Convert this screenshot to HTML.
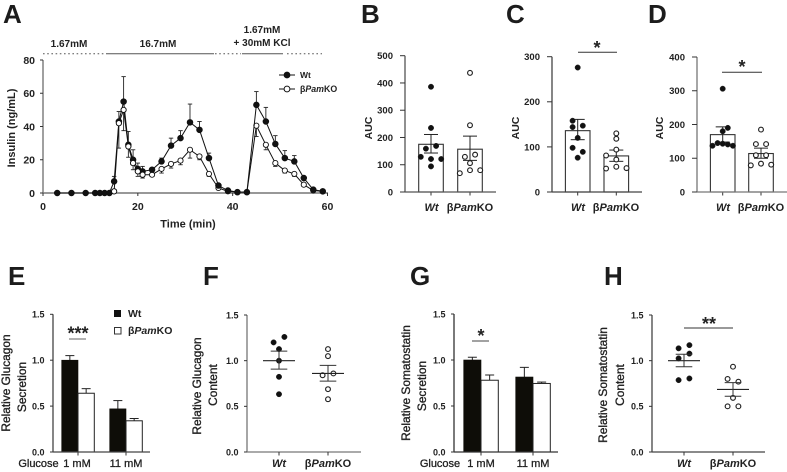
<!DOCTYPE html>
<html lang="en">
<head>
<meta charset="utf-8">
<title>Insulin, glucagon and somatostatin secretion</title>
<style>
html,body{margin:0;padding:0;background:#fff;}
svg{display:block;font-family:"Liberation Sans",sans-serif;}
.letter{font-size:26px;font-weight:bold;fill:#1c1c1c;}
.cond{font-size:10px;font-weight:bold;fill:#222;text-anchor:middle;}
.b11{font-size:11px;font-weight:bold;fill:#222;text-anchor:middle;}
.auc{font-size:10.5px;font-weight:bold;fill:#222;text-anchor:middle;}
.rel{font-size:11.9px;fill:#222;stroke:#222;stroke-width:.35px;text-anchor:middle;}
.xreg{font-size:11px;fill:#222;stroke:#222;stroke-width:.3px;text-anchor:middle;}
.star{font-size:18px;font-weight:bold;fill:#222;text-anchor:middle;}
.leg{font-weight:bold;fill:#222;}
</style>
</head>
<body>
<svg id="fig" width="787" height="472" viewBox="0 0 787 472" xmlns="http://www.w3.org/2000/svg">
  <rect x="0" y="0" width="787" height="472" fill="#fff"/>

  <text class="letter" x="3" y="23">A</text>
  <text class="letter" x="361" y="23">B</text>
  <text class="letter" x="506" y="23">C</text>
  <text class="letter" x="648" y="23">D</text>
  <text class="letter" x="8" y="285">E</text>
  <text class="letter" x="203" y="285">F</text>
  <text class="letter" x="410" y="285">G</text>
  <text class="letter" x="604" y="285">H</text>

  <text class="cond" x="69" y="47">1.67mM</text>
  <text class="cond" x="158" y="47">16.7mM</text>
  <text class="cond" x="262" y="33">1.67mM</text>
  <text class="cond" x="262" y="46">+ 30mM KCl</text>
  <g stroke="#555" stroke-width="1">
    <line x1="43" x2="107" y1="53.7" y2="53.7" stroke-dasharray="1.6 2.6"/>
    <line x1="107" x2="214" y1="53.7" y2="53.7"/>
    <line x1="215" x2="241" y1="53.7" y2="53.7" stroke-dasharray="1.6 2.6"/>
    <line x1="242" x2="283" y1="53.7" y2="53.7"/>
    <line x1="287" x2="322" y1="53.7" y2="53.7" stroke-dasharray="1.6 2.6"/>
  </g>
  <text class="b11" transform="translate(15,128) rotate(-90)">Insulin (ng/mL)</text>
  <text class="b11" x="188" y="227.7">Time (min)</text>

  <g>
    <line x1="279" x2="295" y1="75" y2="75" stroke="#111" stroke-width="1"/>
    <circle cx="287" cy="75" r="2.9" fill="#111" stroke="#111"/>
    <text class="leg" x="300" y="78" font-size="8.5">Wt</text>
    <line x1="279" x2="295" y1="89" y2="89" stroke="#111" stroke-width="1"/>
    <circle cx="287" cy="89" r="2.9" fill="#fff" stroke="#111"/>
    <text class="leg" x="300" y="92" font-size="8.8">β<tspan font-style="italic">Pam</tspan>KO</text>
  </g>

  <text class="auc" transform="translate(372,128) rotate(-90)">AUC</text>
  <text class="b11" x="431.5" y="211" font-style="italic">Wt</text>
  <text class="b11" x="470" y="211">β<tspan font-style="italic">Pam</tspan>KO</text>

  <text class="auc" transform="translate(519,128) rotate(-90)">AUC</text>
  <text class="b11" x="578" y="211" font-style="italic">Wt</text>
  <text class="b11" x="616" y="211">β<tspan font-style="italic">Pam</tspan>KO</text>
  <line x1="578" x2="617" y1="52.3" y2="52.3" stroke="#333" stroke-width="1"/>
  <text class="star" x="597" y="54">*</text>

  <text class="auc" transform="translate(663,128) rotate(-90)">AUC</text>
  <text class="b11" x="723" y="211" font-style="italic">Wt</text>
  <text class="b11" x="761" y="211">β<tspan font-style="italic">Pam</tspan>KO</text>
  <line x1="722" x2="762" y1="72.3" y2="72.3" stroke="#333" stroke-width="1"/>
  <text class="star" x="742" y="73">*</text>

  <text class="rel" transform="translate(10,383) rotate(-90)">Relative Glucagon</text>
  <text class="rel" transform="translate(26,387) rotate(-90)">Secretion</text>
  <text class="xreg" x="38.5" y="467">Glucose</text>
  <text class="xreg" x="77" y="467">1 mM</text>
  <text class="xreg" x="126" y="467">11 mM</text>
  <line x1="69" x2="86" y1="339" y2="339" stroke="#666" stroke-width="1"/>
  <text class="star" x="78" y="339.5" font-size="19">***</text>
  <g>
    <rect x="114" y="310" width="7" height="7" fill="#111"/>
    <text class="leg" x="128" y="317" font-size="10.5">Wt</text>
    <rect x="114.5" y="327.5" width="6.5" height="6.5" fill="#fff" stroke="#333"/>
    <text class="leg" x="128" y="334" font-size="10.5">β<tspan font-style="italic">Pam</tspan>KO</text>
  </g>

  <text class="rel" transform="translate(201,386) rotate(-90)">Relative Glucagon</text>
  <text class="rel" transform="translate(217,385) rotate(-90)">Content</text>
  <text class="b11" x="279" y="467" font-style="italic">Wt</text>
  <text class="b11" x="328" y="467">β<tspan font-style="italic">Pam</tspan>KO</text>

  <text class="rel" transform="translate(410,383) rotate(-90)">Relative Somatostatin</text>
  <text class="rel" transform="translate(426,386) rotate(-90)">Secretion</text>
  <text class="xreg" x="440" y="467">Glucose</text>
  <text class="xreg" x="481" y="467">1 mM</text>
  <text class="xreg" x="533" y="467">11 mM</text>
  <line x1="472" x2="489" y1="341" y2="341" stroke="#444" stroke-width="1"/>
  <text class="star" x="481" y="342">*</text>

  <text class="rel" transform="translate(607,385) rotate(-90)">Relative Somatostatin</text>
  <text class="rel" transform="translate(624,385) rotate(-90)">Content</text>
  <text class="b11" x="684" y="467" font-style="italic">Wt</text>
  <text class="b11" x="733" y="467">β<tspan font-style="italic">Pam</tspan>KO</text>
  <line x1="684" x2="733" y1="328" y2="328" stroke="#333" stroke-width="1"/>
  <text class="star" x="709" y="330" font-size="20">**</text>

  <g id="marks"></g>
</svg>

<script>
// Panel A
const timeMin = [3,6,9,11,12,13,14,15,16,17,18,19,20,21,23,25,27,29,31,33,35,37,39,41,43,45,47,49,51,53,55,57,59];
const wtInsulin = [0,0,0,0,0,0,0,7,43,55,29,20,14.5,13,14,19,28.5,33,42.5,38,21,4.5,1.5,0.5,0.5,53,43,29.5,21,19,9,2,1];
const wtInsulinErr = [0,0,0,0,0,0,0,3,6,15,8,6,3.5,3,1,2,4.5,4.5,11,5,3,1,0,0,0,8,8.5,5,4.5,3.5,1,0,0];
const koInsulin = [0,0,0,0,0,0,0,1,42,50,28,18,13,11,11,14.5,17.5,19.5,26,22,11.5,3,1,0.5,0.5,40.5,29,18,13.5,11.5,5,1.5,1];
const koInsulinErr = [0,0,0,0,0,0,0,0.5,15,12.5,6.5,4,3,2,1,2.5,2.5,2.5,5,2,1.5,1,0,0,0,6.5,3,2,1.5,1.5,1,0,0];
const aYTicks = [0,20,40,60,80];
const aXTicks = [0,20,40,60];

// Panels B, C, D
const aucTicksB = [0,100,200,300,400,500];
const aucTicksC = [0,100,200,300];
const aucTicksD = [0,100,200,300,400];
const bMeans = [175,157];
const bErrHigh = [211,205];
const bErrLow = [143,116];
const bWtPoints = [386,235,159,169,129,121,121,94];
const bWtSlots = [0,0,-1,1,-2,0,2,0];
const bKoPoints = [437,245,129,137,106,80,69,80];
const bKoSlots = [0,0,-1,1,0,0,-2,2];
const cMeans = [136,80];
const cErrHigh = [161,93];
const cErrLow = [116,68];
const cWtPoints = [276,158,144,147,120,98,89,76];
const cWtSlots = [0,-1,-1,1,0,-1,1,0];
const cKoPoints = [130,118,94,81,72,56,52,53];
const cKoSlots = [0,0,0,-2,0,0,-2,2];
const dMeans = [170,114];
const dErrHigh = [193,130];
const dErrLow = [148,100];
const dWtPoints = [306,190,180,145,143,141,137,137];
const dWtSlots = [0,1,0,-1,0,1,-2,2];
const dKoPoints = [185,142,142,109,109,84,79,81];
const dKoSlots = [0,-1,1,-1,1,0,-2,2];

// Panels E, G
const relTicks = [0,0.5,1,1.5];
const relTickLabels = ['0.0','0.5','1.0','1.5'];
const eWt = [1.0,0.47];
const eWtTop = [1.05,0.56];
const eKo = [0.64,0.34];
const eKoTop = [0.69,0.365];
const gWt = [1.0,0.815];
const gWtTop = [1.03,0.92];
const gKo = [0.78,0.745];
const gKoTop = [0.837,0.76];

// Panels F, H
const fWtPoints = [1.26,1.2,1.127,1.0,0.823,0.633];
const fWtSlots = [1,-1,0,0,0,0];
const fKoPoints = [1.127,1.05,0.86,0.84,0.688,0.578];
const fKoSlots = [0,0,1,-1,0,0];
const fMeans = [1.0,0.86];
const fErrHigh = [1.105,0.948];
const fErrLow = [0.907,0.776];
const hWtPoints = [1.17,1.135,1.077,1.025,0.805,0.787];
const hWtSlots = [1,-1,1,-1,1,-1];
const hKoPoints = [0.934,0.8,0.77,0.593,0.5,0.5];
const hKoSlots = [0,-1,1,0,-1,1];
const hMeans = [1.0,0.685];
const hErrHigh = [1.07,0.76];
const hErrLow = [0.934,0.61];

const NS = 'http://www.w3.org/2000/svg';
const root = document.getElementById('marks');

function mk(tag, attrs, name, text) {
  const el = document.createElementNS(NS, tag);
  for (const k in attrs) el.setAttribute(k, attrs[k]);
  
  
  if (text !== undefined) el.textContent = text;
  root.appendChild(el);
  return el;
}
function linear(d0, d1, r0, r1) {
  return v => r0 + (v - d0) * (r1 - r0) / (d1 - d0);
}
function seg(x1, y1, x2, y2, color, w, name) {
  return mk('line', {x1, y1, x2, y2, stroke: color, 'stroke-width': w}, name);
}
function axes(p, ticks, labels, y, x0, x1, yBase, color, tickLen, labelGap, fontSize) {
  seg(x0, yBase, x1, yBase, color, 1.3, p + '-x-axis-line');
  seg(x0, y(ticks[ticks.length - 1]), x0, yBase, color, 1.3, p + '-y-axis-line');
  ticks.forEach((t, i) => {
    seg(x0 - tickLen, y(t), x0, y(t), '#333', 1, p + '-y-tick');
    mk('text', {x: x0 - labelGap, y: y(t) + 3.4, 'text-anchor': 'end', 'font-size': fontSize, 'font-weight': 'bold', fill: '#222'}, p + '-y-tick-label', labels[i]);
  });
}
function xTick(p, x, yBase) {
  seg(x, yBase, x, yBase + 3.5, '#333', 1, p + '-x-tick');
}
function dot(x, y, filled, name) {
  mk('circle', {cx: x, cy: y, r: filled ? 2.7 : 2.4, fill: filled ? '#111' : '#fff', stroke: '#222', 'stroke-width': filled ? 0.5 : 1.15}, name);
}

// Panel A
(function () {
  const x = linear(0, 60, 43, 327.5);
  const y = linear(0, 80, 193, 60);
  seg(43, 193, 328, 193, '#777', 1.4, 'a-x-axis-line');
  seg(43, 60, 43, 193, '#777', 1.4, 'a-y-axis-line');
  aYTicks.forEach(t => {
    seg(40, y(t), 43, y(t), '#333', 1, 'a-y-tick');
    mk('text', {x: 35, y: y(t) + 3.8, 'text-anchor': 'end', 'font-size': 10.5, 'font-weight': 'bold', fill: '#222'}, 'a-y-tick-label', t);
  });
  aXTicks.forEach(t => {
    seg(x(t), 193, x(t), 196, '#333', 1, 'a-x-tick');
    mk('text', {x: x(t), y: 210, 'text-anchor': 'middle', 'font-size': 10.5, 'font-weight': 'bold', fill: '#222'}, 'a-x-tick-label', t);
  });
  const line = (vals, name) => mk('polyline', {
    points: timeMin.map((t, i) => x(t) + ',' + y(vals[i])).join(' '),
    fill: 'none', stroke: '#111', 'stroke-width': 1
  }, name);
  const err = (vals, errs, dir, name) => timeMin.forEach((t, i) => {
    if (!errs[i]) return;
    const e = y(vals[i] + dir * errs[i]);
    seg(x(t), y(vals[i]), x(t), e, '#222', 0.9, name);
    seg(x(t) - 2.2, e, x(t) + 2.2, e, '#222', 0.9, name + '-cap');
  });
  const mark = (t, v, filled, name) => mk('circle', {cx: x(t), cy: y(v), r: filled ? 2.8 : 2.6, fill: filled ? '#111' : '#fff', stroke: '#111', 'stroke-width': 0.9}, name);
  err(koInsulin, koInsulinErr, -1, 'ko-insulin-error-bar');
  line(koInsulin, 'ko-insulin-line');
  timeMin.forEach((t, i) => mark(t, koInsulin[i], false, 'ko-insulin-point'));
  err(wtInsulin, wtInsulinErr, 1, 'wt-insulin-error-bar');
  line(wtInsulin, 'wt-insulin-line');
  timeMin.forEach((t, i) => mark(t, wtInsulin[i], true, 'wt-insulin-point'));
  timeMin.forEach((t, i) => {
    if (t >= 15 && t <= 21) mark(t, koInsulin[i], false, 'ko-insulin-point');
  });
})();

// Bars with individual points (B, C, D)
function aucPanel(p, ticks, x0, x1, top, centers, color, means, hi, lo, wtPts, wtSlots, koPts, koSlots) {
  const yBase = 192;
  const y = linear(0, ticks[ticks.length - 1], yBase, top);
  const hw = 12.3;
  means.forEach((m, i) => {
    const c = centers[i];
    mk('rect', {x: c - hw, y: y(m), width: hw * 2, height: yBase - y(m), fill: '#fff', stroke: '#333', 'stroke-width': 1.1}, p + '-bar-' + (i ? 'ko' : 'wt'));
    seg(c, y(lo[i]), c, y(hi[i]), '#222', 1, p + '-error-bar');
    seg(c - 7, y(hi[i]), c + 7, y(hi[i]), '#222', 1, p + '-error-cap');
    seg(c - 7, y(lo[i]), c + 7, y(lo[i]), '#222', 1, p + '-error-cap');
    xTick(p, c, yBase);
  });
  axes(p, ticks, ticks, y, x0, x1, yBase, color, 5, 12, 9.5);
  wtPts.forEach((v, i) => dot(centers[0] + wtSlots[i] * 5.1, y(v), true, p + '-wt-point'));
  koPts.forEach((v, i) => dot(centers[1] + koSlots[i] * 5.1, y(v), false, p + '-ko-point'));
}
aucPanel('b', aucTicksB, 405, 496, 55.7, [431, 470], '#555', bMeans, bErrHigh, bErrLow, bWtPoints, bWtSlots, bKoPoints, bKoSlots);
aucPanel('c', aucTicksC, 552, 642, 56.7, [577.7, 616.3], '#444', cMeans, cErrHigh, cErrLow, cWtPoints, cWtSlots, cKoPoints, cKoSlots);
aucPanel('d', aucTicksD, 697, 787, 57, [722.7, 761], '#777', dMeans, dErrHigh, dErrLow, dWtPoints, dWtSlots, dKoPoints, dKoSlots);

// Grouped bars (E, G)
function groupPanel(p, x0, x1, top, groupCenters, hw, color, wt, wtTop, ko, koTop) {
  const yBase = 452;
  const y = linear(0, 1.5, yBase, top);
  groupCenters.forEach((c, i) => {
    seg(c - hw / 2, y(wt[i]), c - hw / 2, y(wtTop[i]), '#222', 1, p + '-wt-error-bar');
    seg(c - hw / 2 - 4.5, y(wtTop[i]), c - hw / 2 + 4.5, y(wtTop[i]), '#222', 1, p + '-wt-error-cap');
    seg(c + hw / 2, y(ko[i]), c + hw / 2, y(koTop[i]), '#222', 1, p + '-ko-error-bar');
    seg(c + hw / 2 - 4.5, y(koTop[i]), c + hw / 2 + 4.5, y(koTop[i]), '#222', 1, p + '-ko-error-cap');
    mk('rect', {x: c - hw, y: y(wt[i]), width: hw, height: yBase - y(wt[i]), fill: '#0e0d08', stroke: '#0e0d08', 'stroke-width': 0.6}, p + '-bar-wt');
    mk('rect', {x: c, y: y(ko[i]), width: hw, height: yBase - y(ko[i]), fill: '#fff', stroke: '#222', 'stroke-width': 1}, p + '-bar-ko');
    xTick(p, c, yBase);
  });
  axes(p, relTicks, relTickLabels, y, x0, x1, yBase, color, 3, 8.5, 9);
}
groupPanel('e', 53, 150, 314.3, [78, 126], 16.3, '#444', eWt, eWtTop, eKo, eKoTop);
groupPanel('g', 454, 558, 314, [481, 533], 17.3, '#333', gWt, gWtTop, gKo, gKoTop);

// Mean and SEM scatter (F, H)
function scatterPanel(p, x0, x1, top, centers, color, means, hi, lo, wtPts, wtSlots, koPts, koSlots) {
  const yBase = 452;
  const y = linear(0, 1.5, yBase, top);
  axes(p, relTicks, relTickLabels, y, x0, x1, yBase, color, 3, 8.5, 9);
  centers.forEach(c => xTick(p, c, yBase));
  wtPts.forEach((v, i) => dot(centers[0] + wtSlots[i] * 5.4, y(v), true, p + '-wt-point'));
  koPts.forEach((v, i) => dot(centers[1] + koSlots[i] * 5.4, y(v), false, p + '-ko-point'));
  means.forEach((m, i) => {
    const c = centers[i];
    seg(c - 16, y(m), c + 16, y(m), '#222', 1.1, p + '-mean-line');
    seg(c, y(lo[i]), c, y(hi[i]), '#333', 1, p + '-error-bar');
    seg(c - 8.3, y(hi[i]), c + 8.3, y(hi[i]), '#333', 1, p + '-error-cap');
    seg(c - 8.3, y(lo[i]), c + 8.3, y(lo[i]), '#333', 1, p + '-error-cap');
  });
}
scatterPanel('f', 247, 361, 315, [279, 328], '#777', fMeans, fErrHigh, fErrLow, fWtPoints, fWtSlots, fKoPoints, fKoSlots);
scatterPanel('h', 652, 765, 315, [684, 733], '#444', hMeans, hErrHigh, hErrLow, hWtPoints, hWtSlots, hKoPoints, hKoSlots);
</script>
</body>
</html>
